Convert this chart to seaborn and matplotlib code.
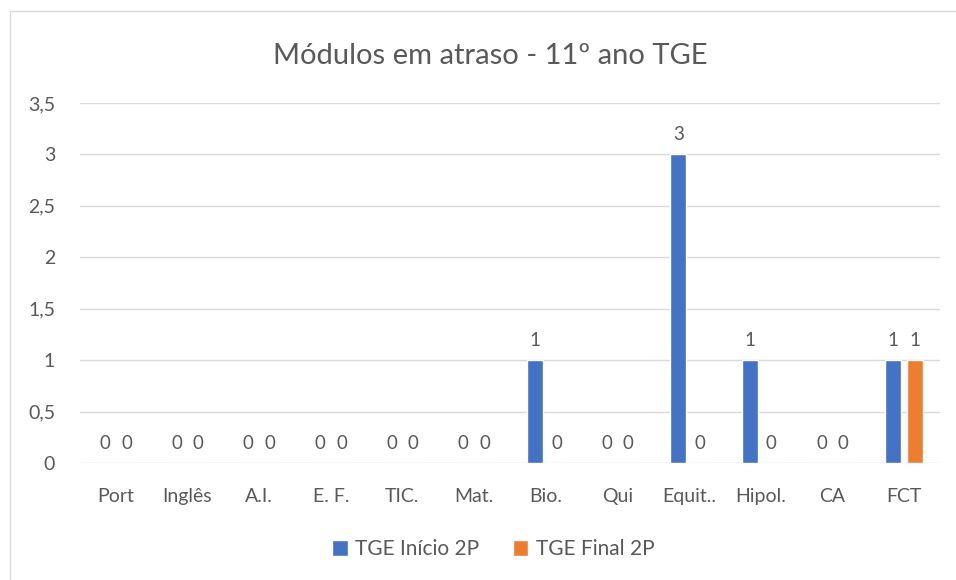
import pandas as pd
import numpy as np
import matplotlib.pyplot as plt
import seaborn as sns
from matplotlib.patches import Rectangle

# data
categories = ["Port", "Inglês", "A.I.", "E. F.", "TIC.", "Mat.", "Bio.", "Qui",
              "Equit..", "Hipol.", "CA", "FCT"]
inicio_2p = [0, 0, 0, 0, 0, 0, 1, 0, 3, 1, 0, 1]
final_2p = [0, 0, 0, 0, 0, 0, 0, 0, 0, 0, 0, 1]
series_names = ["TGE Início 2P", "TGE Final 2P"]
y_ticks = [0, 0.5, 1, 1.5, 2, 2.5, 3, 3.5]

df = pd.DataFrame({
    "categoria": categories * 2,
    "valor": inicio_2p + final_2p,
    "serie": [series_names[0]] * len(categories) + [series_names[1]] * len(categories),
})

sns.set_style("white")
plt.rcParams['font.family'] = ['Lato', 'DejaVu Sans']

txt = "#595959"
fig = plt.figure(figsize=(9.56, 5.8), dpi=100)
ax = fig.add_axes([0.0837, 0.2017, 0.8993, 0.6207])

sns.barplot(data=df, x="categoria", y="valor", hue="serie", order=categories,
            hue_order=series_names, palette=["#4472C4", "#ED7D31"], saturation=1,
            width=0.6, gap=0.25, ax=ax, legend=True)

for cont in ax.containers:
    ax.bar_label(cont, fmt="%g", padding=8, fontsize=13.5, color=txt)

ax.set_ylim(0, 3.5)
ax.set_yticks(y_ticks)
ax.set_yticklabels([f"{t:g}".replace(".", ",") for t in y_ticks])
ax.set_xlim(-0.5, len(categories) - 0.5)
ax.yaxis.grid(True, color="#D9D9D9", linewidth=1)
ax.set_axisbelow(True)
for s in ax.spines.values():
    s.set_visible(False)
ax.tick_params(axis="both", length=0, labelsize=14, colors=txt)
ax.tick_params(axis="x", pad=18)
ax.tick_params(axis="y", pad=18)
ax.set_xlabel("")
ax.set_ylabel("")

fig.text(0.5126, 0.903, "Módulos em atraso - 11º ano TGE", ha="center", va="center",
         fontsize=21, color=txt)

leg = ax.legend(loc="center", bbox_to_anchor=(0.516, 0.053), bbox_transform=fig.transFigure,
                ncol=2, frameon=False, fontsize=15, handlelength=0.75, handleheight=0.75,
                handletextpad=0.35, columnspacing=1.6)
for t in leg.get_texts():
    t.set_color(txt)

fig.patches.append(Rectangle((10 / 956, -0.1), 1.2, (569 + 58) / 580, transform=fig.transFigure,
                             fill=False, edgecolor="#D9D9D9", linewidth=1))

fig.savefig("out.png", dpi=100)
